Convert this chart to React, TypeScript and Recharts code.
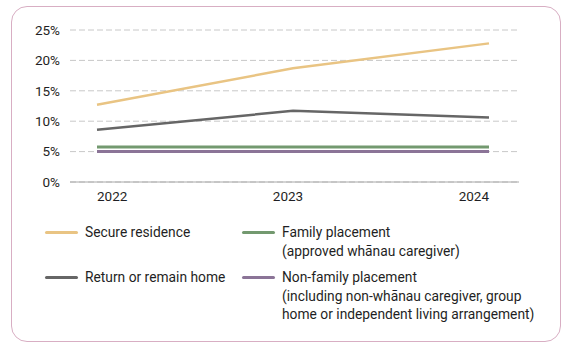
import { LineChart, Line, XAxis, YAxis, CartesianGrid } from "recharts";

const years = ["2022", "2023", "2024"];
const secureResidence = [12.7, 18.7, 22.8];
const returnHome = [8.6, 11.7, 10.6];
const familyPlacement = [5.75, 5.75, 5.75];
const nonFamilyPlacement = [5.0, 5.0, 5.0];
const yTicks = [0, 5, 10, 15, 20, 25];

const series = [
  { key: "secure", name: "Secure residence", color: "#E9C483", width: 2.5, values: secureResidence },
  { key: "returnHome", name: "Return or remain home", color: "#666666", width: 2.5, values: returnHome },
  { key: "family", name: "Family placement", color: "#73996F", width: 3, values: familyPlacement },
  { key: "nonFamily", name: "Non-family placement", color: "#8B7497", width: 3, values: nonFamilyPlacement },
];

const data = years.map((year, i) => {
  const row: Record<string, string | number> = { year };
  series.forEach((s) => (row[s.key] = s.values[i]));
  return row;
});

const font = "Roboto, 'Noto Sans', sans-serif";

function YearTick(props: any) {
  const { x, y, payload, index } = props;
  const anchor = index === 0 ? "start" : index === years.length - 1 ? "end" : "middle";
  const dx = index === 1 ? -5 : 0;
  return (
    <text x={x + dx} y={y} dy="0.71em" textAnchor={anchor} fill="#1f1f24" fontSize={13.5} fontFamily={font}>
      {payload.value}
    </text>
  );
}

function LegendItem({ color, lines, left, top }: { color: string; lines: string[]; left: number; top: number }) {
  return (
    <div style={{ position: "absolute", left, top }}>
      <div style={{ position: "absolute", left: 0, top: 6, width: 33, height: 3, background: color, borderRadius: 1.5 }} />
      <div
        style={{
          position: "absolute",
          left: 40,
          top: -2,
          whiteSpace: "nowrap",
          fontSize: 13.8,
          lineHeight: "18.5px",
          color: "#1f1f24",
          fontFamily: font,
        }}
      >
        {lines.map((l) => (
          <div key={l}>{l}</div>
        ))}
      </div>
    </div>
  );
}

export default function App() {
  return (
    <div style={{ position: "absolute", left: 0, top: 0, width: 572, height: 355, background: "#fff" }}>
      <div
        style={{
          position: "absolute",
          left: 11,
          top: 6,
          width: 548,
          height: 334,
          border: "1px solid #D8AEC3",
          borderRadius: 16,
        }}
      />
      <div style={{ position: "absolute", left: 0, top: 0 }}>
        <LineChart width={572} height={212} data={data} margin={{ top: 30, right: 53, bottom: 0, left: 0 }}>
          <CartesianGrid vertical={false} strokeDasharray="6 3" stroke="#C8C8C8" />
          <XAxis
            dataKey="year"
            padding={{ left: 27, right: 30 }}
            height={30}
            tickLine={false}
            tickSize={6}
            tickMargin={3}
            stroke="#A8A8A8"
            tick={<YearTick />}
          />
          <YAxis
            width={70}
            domain={[0, 25]}
            ticks={yTicks}
            axisLine={false}
            tickLine={false}
            tickSize={0}
            tickMargin={10}
            tickFormatter={(v) => `${v}%`}
            tick={{ fontSize: 13.5, fill: "#1f1f24", fontFamily: font }}
          />
          {series.map((s) => (
            <Line
              key={s.key}
              type="linear"
              dataKey={s.key}
              name={s.name}
              stroke={s.color}
              strokeWidth={s.width}
              dot={false}
              activeDot={false}
              isAnimationActive={false}
            />
          ))}
        </LineChart>
      </div>
      <LegendItem color={series[0].color} lines={["Secure residence"]} left={45} top={225} />
      <LegendItem color={series[1].color} lines={["Return or remain home"]} left={45} top={270} />
      <LegendItem color={series[2].color} lines={["Family placement", "(approved wh\u0101nau caregiver)"]} left={242} top={225} />
      <LegendItem
        color={series[3].color}
        lines={["Non-family placement", "(including non-wh\u0101nau caregiver, group", "home or independent living arrangement)"]}
        left={242}
        top={270}
      />
    </div>
  );
}
